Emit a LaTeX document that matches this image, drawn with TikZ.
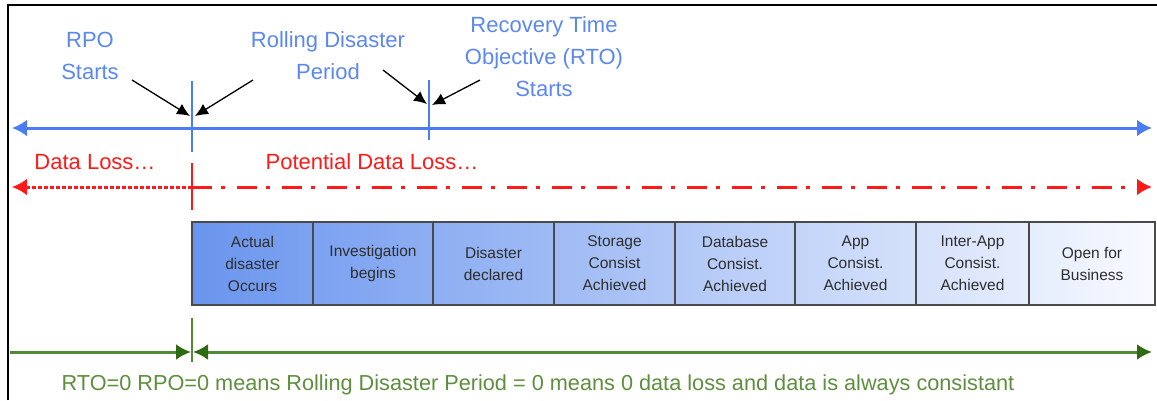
\documentclass[tikz,border=0pt]{standalone}
\usepackage{fontspec}
\setmainfont{Liberation Sans}
\usetikzlibrary{arrows.meta}
\definecolor{tblue}{HTML}{4A7DF4}
\definecolor{tbluetext}{HTML}{5B88F2}
\definecolor{tred}{HTML}{FF1A1A}
\definecolor{tgreen}{HTML}{538A33}
\definecolor{tgreendark}{HTML}{2E6A12}
\definecolor{tgreentext}{HTML}{5E8F3E}
\definecolor{boxline}{HTML}{4A4A4A}
\definecolor{boxtext}{HTML}{2E2E2E}
\definecolor{shadeleft}{HTML}{6A95EE}
\definecolor{shaderight}{HTML}{F8FAFF}
\tikzset{
  bluetip/.tip={Latex[length=15pt,width=17pt]},
  redtip/.tip={Latex[length=15pt,width=17pt]},
  greentip/.tip={Latex[length=15pt,width=16pt,color=tgreendark]},
  ptrtip/.tip={Latex[length=13pt,width=12pt]}
}
\begin{document}
\begin{tikzpicture}[x=1pt,y=-1pt,
  bluelbl/.style={text=tbluetext,font=\fontsize{22}{32}\selectfont,align=center,inner sep=0pt},
  redlbl/.style={text=tred,font=\fontsize{22}{26}\selectfont,inner sep=0pt},
  greenlbl/.style={text=tgreentext,font=\fontsize{21.7}{26}\selectfont,inner sep=0pt},
  marker/.style={line width=1.4pt},
  pointer/.style={black,line width=1.3pt,-{ptrtip}},
  stepbox/.style={draw=boxline,line width=2.2pt,inner sep=0pt,outer sep=0pt,
    minimum height=83pt,text=boxtext,align=center,font=\fontsize{15.5}{22}\selectfont}
]
\useasboundingbox (0,0) rectangle (1157,400);
\fill[white] (0,0) rectangle (1157,400);
\draw[line width=2.5pt] (8,400) -- (8,5) -- (1157,5);

% labels
\node[bluelbl] (rpo) at (90,56) {RPO\\Starts};
\node[bluelbl] (rdp) at (328,56) {Rolling Disaster\\Period};
\node[bluelbl] (rto) at (544,57) {Recovery Time\\Objective (RTO)\\Starts};

% blue timeline
\coordinate (bl) at (12,128);
\coordinate (br) at (1152,128);
\draw[tblue,line width=3pt,{bluetip}-{bluetip}] (bl) -- (br);
\coordinate (v1t) at (192,81);
\coordinate (v1b) at (192,152);
\draw[tblue,marker] (v1t) -- (v1b);
\coordinate (v2t) at (429,80);
\coordinate (v2b) at (429,140);
\draw[tblue,marker] (v2t) -- (v2b);

% black pointers
\coordinate (p1s) at (132,80);
\coordinate (p1e) at (190,116);
\coordinate (p2s) at (253,80);
\coordinate (p2e) at (195,116);
\coordinate (p3s) at (383,70);
\coordinate (p3e) at (427,104);
\coordinate (p4s) at (480,80);
\coordinate (p4e) at (432,105);
\draw[pointer] (p1s) -- (p1e);
\draw[pointer] (p2s) -- (p2e);
\draw[pointer] (p3s) -- (p3e);
\draw[pointer] (p4s) -- (p4e);

% red line
\node[redlbl] (dl) at (95,162) {Data Loss…};
\node[redlbl] (pdl) at (372,162) {Potential Data Loss…};
\coordinate (rl) at (12,187);
\coordinate (rm) at (192,187);
\coordinate (rr) at (1152,187);
\draw[tred,line width=3pt,dash pattern=on 4pt off 2pt,{redtip}-] (rl) -- (rm);
\draw[tred,line width=3pt,dash pattern=on 20pt off 9pt on 4pt off 12pt,-{redtip}] (rm) -- (rr);
\coordinate (rvt) at (192,163);
\coordinate (rvb) at (192,210);
\draw[tred,marker] (rvt) -- (rvb);

% boxes
\shade[left color=shadeleft,right color=shaderight] (192,222) rectangle (1155,305);
\node[stepbox,minimum width=121pt] (b1) at (252.5,263.5) {Actual\\disaster\\Occurs};
\node[stepbox,minimum width=120pt] (b2) at (373,263.5) {Investigation\\begins};
\node[stepbox,minimum width=121pt] (b3) at (493.5,263.5) {Disaster\\declared};
\node[stepbox,minimum width=121pt] (b4) at (614.5,263.5) {Storage\\Consist\\Achieved};
\node[stepbox,minimum width=120pt] (b5) at (735,263.5) {Database\\Consist.\\Achieved};
\node[stepbox,minimum width=121pt] (b6) at (855.5,263.5) {App\\Consist.\\Achieved};
\node[stepbox,minimum width=113pt] (b7) at (972.5,263.5) {Inter-App\\Consist.\\Achieved};
\node[stepbox,minimum width=126pt] (b8) at (1092,263.5) {Open for\\Business};

% green line
\coordinate (gvt) at (192,318);
\coordinate (gvb) at (192,362);
\draw[tgreen,marker] (gvt) -- (gvb);
\coordinate (gl) at (10,352);
\coordinate (gm1) at (191,352);
\coordinate (gm2) at (193,352);
\coordinate (gr) at (1152,352);
\draw[tgreen,line width=3pt,-{greentip}] (gl) -- (gm1);
\draw[tgreen,line width=3pt,{greentip}-{greentip}] (gm2) -- (gr);
\node[greenlbl] (note) at (538,385) {RTO=0 RPO=0 means Rolling Disaster Period = 0 means 0 data loss and data is always consistant};
\end{tikzpicture}
\end{document}
